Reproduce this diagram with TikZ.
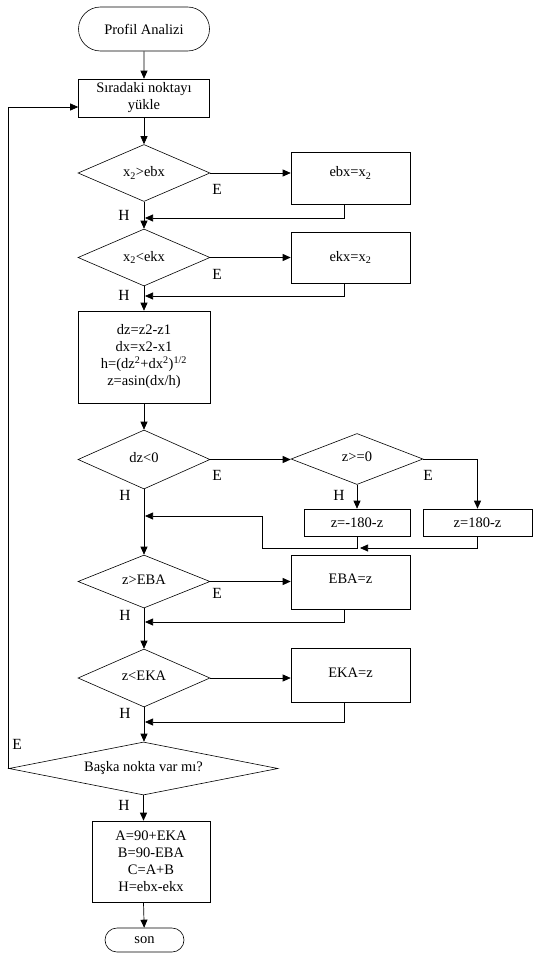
\documentclass[tikz,border=0pt]{standalone}
\usepackage{fontspec}
\setmainfont{Liberation Serif}
\usetikzlibrary{shapes.geometric,shapes.misc,arrows.meta}
\begin{document}
\begin{tikzpicture}[x=1pt,y=-1pt,
 every node/.style={font=\fontsize{14.5}{17}\selectfont},
 every label/.style={font=\fontsize{14.5}{17}\selectfont},
 line/.style={draw, line width=0.7pt},
 arr/.style={line, -{Triangle[length=8pt,width=7pt]}},
 proc/.style={draw, line width=0.6pt, inner sep=0pt, align=center},
 dec/.style={draw, diamond, inner sep=0pt, line width=0.6pt},
 term/.style={draw, rounded rectangle, inner sep=0pt, line width=0.6pt},
 lbl/.style={inner sep=0pt, font=\fontsize{15.5}{17}\selectfont}
]
\useasboundingbox (0,0) rectangle (534,958);

\node[term, minimum width=131pt, minimum height=44pt] (start) at (144,29) {Profil Analizi};
\node[proc, minimum width=131pt, minimum height=38pt] (load) at (144,98) {Sıradaki noktayı\\yükle};

\node[dec, minimum width=132pt, minimum height=57pt, label={center:x\textsubscript{2}>ebx}] (d1) at (144,173) {};
\node[proc, minimum width=119pt, minimum height=52pt, label={[yshift=5pt]center:ebx=x\textsubscript{2}}] (b1) at (350.5,178) {};

\node[dec, minimum width=132pt, minimum height=57pt, label={center:x\textsubscript{2}<ekx}] (d2) at (144,257.5) {};
\node[proc, minimum width=119pt, minimum height=51pt] (b2) at (350.5,257.5) {ekx=x\textsubscript{2}};

\node[proc, minimum width=132pt, minimum height=92pt] (calc) at (144,357) {dz=z2-z1\\dx=x2-x1\\h=(dz\textsuperscript{2}+dx\textsuperscript{2})\textsuperscript{1/2}\\z=asin(dx/h)};

\node[dec, minimum width=132pt, minimum height=59pt, label={[yshift=2pt]center:dz<0}] (d3) at (144,459.5) {};
\node[dec, minimum width=132pt, minimum height=51pt, label={[yshift=2pt]center:z>=0}] (d4) at (357,459) {};
\node[proc, minimum width=106pt, minimum height=27pt] (b3) at (357,522.5) {z=-180-z};
\node[proc, minimum width=109pt, minimum height=27pt] (b4) at (477.5,522.5) {z=180-z};

\node[dec, minimum width=132pt, minimum height=53pt, label={[yshift=2pt]center:z>EBA}] (d5) at (144,581.5) {};
\node[proc, minimum width=119pt, minimum height=54pt, label={[yshift=3pt]center:EBA=z}] (b5) at (350.5,582) {};

\node[dec, minimum width=132pt, minimum height=58pt, label={[yshift=2pt]center:z<EKA}] (d6) at (144,678) {};
\node[proc, minimum width=119pt, minimum height=54pt, label={[yshift=2pt]center:EKA=z}] (b6) at (350.5,675) {};

\node[dec, minimum width=269pt, minimum height=53pt, label={center:Başka nokta var mı?}] (d7) at (143.5,768.5) {};
\node[proc, minimum width=118pt, minimum height=81pt] (fin) at (151,861.5) {A=90+EKA\\B=90-EBA\\C=A+B\\H=ebx-ekx};
\node[term, minimum width=79pt, minimum height=24pt] (son) at (144.5,940) {son};

% junction coordinates on main line
\coordinate (j1) at (145,218);
\coordinate (j2) at (145,296);
\coordinate (j3) at (145,516);
\coordinate (j4) at (145,622);
\coordinate (j5) at (145,722);
\coordinate (k1) at (357,548);
\coordinate (k2) at (262,548);

% main flow
\draw[arr] (start) -- (load);
\draw[arr] (load) -- (load |- d1.north);
\draw[arr] (d1) -- (d2);
\draw[arr] (d2) -- (calc);
\draw[arr] (calc) -- (d3);
\draw[arr] (d3) -- (d5);
\draw[arr] (d5) -- (d6);
\draw[arr] (d6) -- (d6 |- d7.north);
\draw[arr] (d7.south) -- (d7.south |- fin.north);
\draw[arr] (d7.south |- fin.south) -- (son);

% yes branches
\draw[arr] (d1.east) -- (d1.east -| b1.west);
\draw[arr] ([xshift=-6.5pt]b1.south) |- (j1);
\draw[arr] (d2.east) -- (b2.west);
\draw[arr] ([xshift=-6.5pt]b2.south) |- (j2);
\draw[arr] (d3.east) -- (d3.east -| d4.west);
\draw[arr] (d4.south) -- (b3.north);
\draw[arr] (d4.east) -| (b4.north);
\draw[arr] (b3.south) -- (k1) -- (k2) |- (j3);
\draw[arr] (b4.south) |- ([xshift=3pt]k1);
\draw[arr] (d5.east) -- (d5.east -| b5.west);
\draw[arr] ([xshift=-6.5pt]b5.south) |- (j4);
\draw[arr] (d6.east) -- (d6.east -| b6.west);
\draw[arr] ([xshift=-6.5pt]b6.south) |- (j5);

% loop back
\draw[arr] (d7.west) |- ([yshift=-9pt]load.west);

% labels
\node[lbl] (e1) at (217,189) {E};
\node[lbl] (e2) at (217,274) {E};
\node[lbl] (e3) at (217,475) {E};
\node[lbl] (e4) at (428,475) {E};
\node[lbl] (e5) at (217,593) {E};
\node[lbl] (e6) at (17,744) {E};
\node[lbl] (h1) at (124,215) {H};
\node[lbl] (h2) at (124,295) {H};
\node[lbl] (h3) at (125,495) {H};
\node[lbl] (h4) at (339,495) {H};
\node[lbl] (h5) at (125,615) {H};
\node[lbl] (h6) at (125,713) {H};
\node[lbl] (h7) at (124,805) {H};
\end{tikzpicture}
\end{document}
